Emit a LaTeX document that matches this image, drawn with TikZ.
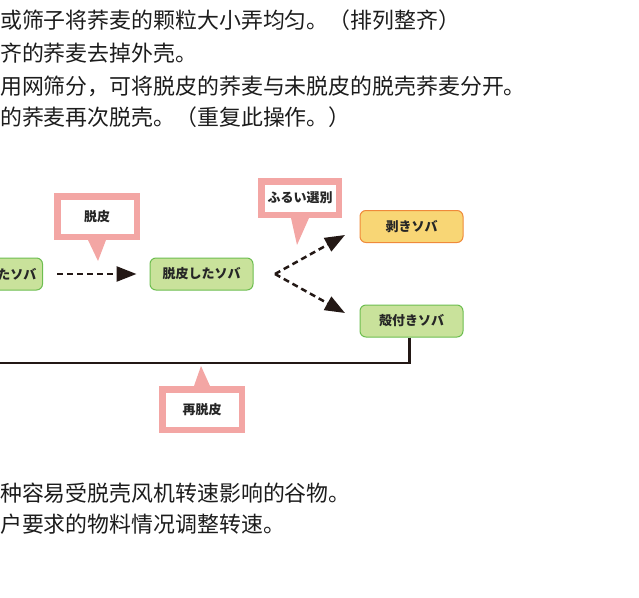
\documentclass[tikz,border=0pt]{standalone}
\usepackage{fontspec}
\newfontfamily\zhfont{Noto Sans CJK SC}
\newfontfamily\jpfont{Noto Sans CJK JP}
\usetikzlibrary{arrows.meta,calc}
\definecolor{txtgray}{RGB}{28,28,28}
\definecolor{pinkb}{RGB}{243,166,164}
\definecolor{greenfill}{RGB}{201,226,155}
\definecolor{greenline}{RGB}{109,190,80}
\definecolor{yellowfill}{RGB}{248,214,117}
\definecolor{orangeline}{RGB}{239,138,58}
\definecolor{darkline}{RGB}{35,24,21}
\tikzset{
  zhline/.style={anchor=west, inner sep=0pt, font=\zhfont\fontsize{21.9}{25}\selectfont, text=txtgray},
  greenbox/.style={draw=greenline, fill=greenfill, line width=1pt, rounded corners=6pt,
    minimum width=103pt, minimum height=32pt, inner sep=0pt,
    font=\jpfont\bfseries\fontsize{13}{15}\selectfont, text=black!85},
  yellowbox/.style={greenbox, draw=orangeline, fill=yellowfill},
  callout/.style={draw=pinkb, fill=white, line width=6.5pt, inner sep=0pt,
    font=\jpfont\bfseries\fontsize{13}{15}\selectfont, text=black!85},
  dasharrow/.style={draw=darkline, line width=2.5pt, dash pattern=on 6pt off 4pt,
    -{Triangle[length=20pt,width=15pt]}},
  solidline/.style={draw=darkline, line width=2.7pt}
}
\begin{document}
\begin{tikzpicture}[x=1pt,y=-1pt]
\useasboundingbox (0,0) rectangle (639,597);
% text lines
\node[zhline] (t1) at (0,20.5) {或筛子将荞麦的颗粒大小弄均匀。（排列整齐）};
\node[zhline] (t2) at (0,53) {齐的荞麦去掉外壳。};
\node[zhline] (t3) at (0,86) {用网筛分，可将脱皮的荞麦与未脱皮的脱壳荞麦分开。};
\node[zhline] (t4) at (0,117.5) {的荞麦再次脱壳。（重复此操作。）};
\node[zhline] (b1) at (0,493) {种容易受脱壳风机转速影响的谷物。};
\node[zhline] (b2) at (0,524) {户要求的物料情况调整转速。};
% boxes
\node[greenbox, anchor=east, minimum width=0pt, text width=90pt, align=right, inner xsep=6pt] (left) at (43,274) {たソバ};
\node[greenbox] (mid) at (201.5,274) {脱皮したソバ};
\node[yellowbox] (muki) at (411.5,226.5) {剥きソバ};
\node[greenbox] (kara) at (411.5,321) {殻付きソバ};
% callouts
\node[callout, minimum width=79.5pt, minimum height=40.5pt] (c1) at (97,216.5) {脱皮};
\fill[pinkb] ($(c1.south)+(-9,0)$) -- ($(c1.south)+(9,0)$) -- ($(c1.south)+(1,21)$) -- cycle;
\node[callout, minimum width=77.5pt, minimum height=33.5pt] (c2) at (300,198) {ふるい選別};
\fill[pinkb] ($(c2.south)+(-9,0)$) -- ($(c2.south)+(9,0)$) -- ($(c2.south)+(-3,27)$) -- cycle;
\node[callout, minimum width=79.5pt, minimum height=40.5pt] (c3) at (202,409.5) {再脱皮};
\fill[pinkb] ($(c3.north)+(-8,0)$) -- ($(c3.north)+(8,0)$) -- ($(c3.north)+(-1,-20)$) -- cycle;
% connectors
\draw[dasharrow, shorten <=14pt, shorten >=13pt] (left.east) -- (mid.west);
\coordinate (split) at (275,274);
\coordinate (upTip) at (345,235);
\coordinate (downTip) at (345,313);
\draw[dasharrow] (split) -- (upTip);
\draw[dasharrow] (split) -- (downTip);
\coordinate (retEnd) at (-5,363);
\draw[solidline] ([xshift=-2pt]kara.south) |- (retEnd);
\end{tikzpicture}
\end{document}
